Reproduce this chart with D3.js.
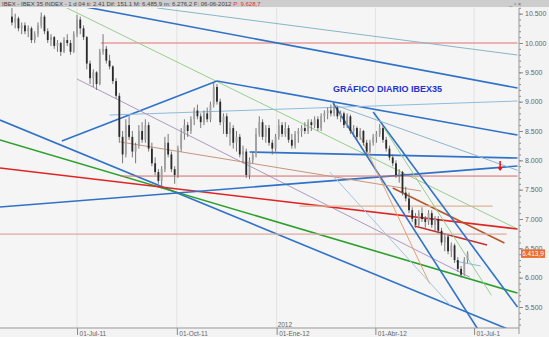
<!DOCTYPE html>
<html>
<head>
<meta charset="utf-8">
<script src="https://cdn.jsdelivr.net/npm/d3@7"></script>
<style>
  body { margin: 0; background: #f3f3f3; }
  svg { display: block; font-family: "Liberation Sans", Arial, sans-serif; }
</style>
</head>
<body>
<svg id="chart" width="549" height="337"></svg>
<script>
// candles: [open, high, low, close], one every 3 days starting at day -60 (days counted from 01-Jul-11)
const startDay = -60, dayStep = 3;
const candles = [
  [10450,10600,10300,10350],[10350,10500,10250,10420],[10420,10450,10200,10250],[10250,10350,10150,10300],
  [10300,10350,10150,10200],[10200,10300,10100,10250],[10250,10280,10000,10050],[10050,10200,10000,10150],
  [10150,10350,10100,10300],[10300,10520,10250,10450],[10450,10480,10150,10200],[10200,10250,10000,10050],
  [10050,10150,9950,10100],[10100,10120,9900,9950],[9950,10050,9850,10000],[10000,10020,9780,9850],
  [9850,10100,9830,10050],[10050,10150,9950,10000],[10000,10050,9800,9850],[9850,10200,9830,10150],
  [10150,10480,10100,10400],[10400,10450,10150,10250],[10250,10300,10050,10100],[10100,10120,9550,9650],
  [9650,9700,9300,9400],[9400,9550,9250,9500],[9500,9520,9200,9300],[9300,9900,9280,9850],
  [9850,10150,9800,9900],[9900,9950,9650,9700],[9700,9800,9550,9600],[9600,9620,9300,9350],
  [9350,9400,9050,9100],[9100,9150,8300,8400],[8400,8500,7950,8100],[8100,8700,8050,8600],
  [8600,8750,8350,8400],[8400,8500,8050,8150],[8150,8300,7950,8250],[8250,8600,8200,8500],
  [8500,8650,8300,8350],[8350,8700,8300,8600],[8600,8650,8150,8200],[8200,8300,7900,7950],
  [7950,8050,7750,7800],[7800,7850,7600,7650],[7650,7900,7520,7850],[7850,8400,7800,8300],
  [8300,8450,8050,8100],[8100,8150,7800,7850],[7850,7900,7600,7750],[7750,8250,7700,8200],
  [8200,8550,8150,8450],[8450,8700,8350,8600],[8600,8650,8400,8500],[8500,8750,8450,8700],
  [8700,8900,8600,8850],[8850,8950,8700,8750],[8750,8800,8550,8650],[8650,8850,8600,8800],
  [8800,8900,8650,8700],[8700,9000,8650,8950],[8950,9330,8900,9250],[9250,9300,8950,9000],
  [9000,9050,8600,8650],[8650,8800,8450,8750],[8750,8800,8400,8450],[8450,8650,8250,8550],
  [8550,8600,8200,8300],[8300,8500,8150,8400],[8400,8450,8050,8100],[8100,8250,7950,8150],
  [8150,8200,7700,7750],[7750,8050,7680,8000],[8000,8150,7950,8100],[8100,8550,8050,8450],
  [8450,8750,8400,8650],[8650,8700,8350,8400],[8400,8600,8300,8550],[8550,8600,8250,8300],
  [8300,8350,8100,8200],[8200,8450,8150,8400],[8400,8700,8350,8600],[8600,8650,8400,8450],
  [8450,8650,8400,8550],[8550,8600,8300,8350],[8350,8450,8200,8250],[8250,8500,8200,8450],
  [8450,8550,8300,8500],[8500,8600,8400,8550],[8550,8650,8450,8500],[8500,8700,8450,8650],
  [8650,8700,8500,8600],[8600,8750,8550,8700],[8700,8750,8500,8550],[8550,8800,8500,8750],
  [8750,8850,8650,8800],[8800,8900,8700,8850],[8850,8950,8750,8800],[8800,8970,8750,8900],
  [8900,8920,8700,8750],[8750,8850,8650,8800],[8800,8830,8550,8600],[8600,8800,8550,8750],
  [8750,8780,8450,8500],[8500,8600,8400,8550],[8550,8580,8350,8400],[8400,8550,8350,8500],
  [8500,8520,8250,8300],[8300,8350,8100,8150],[8150,8350,8120,8300],[8300,8450,8250,8400],
  [8400,8500,8300,8450],[8450,8620,8400,8550],[8550,8600,8300,8350],[8350,8400,8150,8200],
  [8200,8250,8000,8050],[8050,8100,7900,7950],[7950,8000,7700,7750],[7750,7850,7620,7800],
  [7800,7820,7400,7450],[7450,7550,7300,7350],[7350,7450,7100,7150],[7150,7200,6950,7000],
  [7000,7100,6850,6900],[6900,7150,6880,7100],[7100,7200,6950,7000],[7000,7050,6850,6950],
  [6950,7150,6900,7100],[7100,7150,6850,6900],[6900,7050,6800,7000],[7000,7050,6750,6800],
  [6800,6850,6550,6600],[6600,6750,6450,6700],[6700,6750,6400,6450],[6450,6600,6350,6550],
  [6550,6580,6250,6300],[6300,6350,6100,6150],[6150,6200,6000,6050],[6050,6350,6030,6300],
  [6300,6450,6250,6414]
];

const tickDays = [0, 92, 184, 275, 366];
const tickLabels = ["01-Jul-11", "01-Oct-11", "01-Ene-12", "01-Abr-12", "01-Jul-1"];
const priceTicks = [5500, 6000, 6500, 7000, 7500, 8000, 8500, 9000, 9500, 10000, 10500];
const lastPrice = 6413.9;

// trend lines: [day1, price1, day2, price2, colour, width]
const trendLines = [
  [22, 10000, 406, 10000, "#e89a9a", 1.6],
  [74, 10597, 406, 9795, "#86b6c8", 1],
  [3, 10631, 406, 9233, "#2f72c8", 1.6],
  [-13, 10631, 406, 6829, "#96cf8c", 1],
  [-14, 8329, 129, 9352, "#2f72c8", 1.6],
  [129, 9352, 406, 8431, "#2f72c8", 1.6],
  [30, 8772, 406, 9011, "#8cbcdc", 1],
  [0, 9386, 362, 6010, "#b096c4", 1],
  [-71, 8687, 406, 5056, "#2f72c8", 1.6],
  [-71, 8346, 406, 5737, "#2ca02c", 1.6],
  [-71, 7869, 406, 6829, "#e02424", 1.6],
  [291, 7528, 394, 6590, "#b4582c", 1.6],
  [311, 6880, 378, 6556, "#c43030", 1.6],
  [-71, 6743, 396, 6743, "#dcaaa2", 1.4],
  [205, 7221, 383, 7221, "#dcb494", 1.2],
  [236, 8977, 370, 5107, "#2f72c8", 1.6],
  [273, 8824, 406, 5499, "#2f72c8", 1.6],
  [159, 8142, 406, 8039, "#2f72c8", 1.6],
  [-71, 7204, 406, 7903, "#2f72c8", 1.6],
  [40, 7732, 406, 7732, "#d46a6a", 1],
  [238, 8940, 406, 7830, "#8cb4d0", 1],
  [40, 8313, 317, 7477, "#c8947a", 1],
  [283, 8550, 382, 5700, "#96cf8c", 1],
  [260, 8450, 325, 5900, "#e0a070", 1],
  [233, 7800, 344, 5530, "#a8c4dc", 1],
  [349, 6280, 372, 6200, "#8cbcdc", 1]
];

const svg = d3.select("#chart");
const W = 549, H = 337, axisX = 519, plotTop = 8, plotBottom = 328;

const x = d3.scaleLinear().domain([-71, 407.4]).range([0, axisX]);
const y = d3.scaleLinear().domain([10000, 5500]).range([43, 307]);

const esLocale = d3.formatLocale({decimal: ",", thousands: ".", grouping: [3], currency: ["", ""]});
const fmtTick = esLocale.format(",.0f");
const fmtPrice = esLocale.format(",.1f");

svg.append("rect").attr("width", W).attr("height", H).attr("fill", "#f3f3f3");
svg.append("rect").attr("x", 0).attr("y", plotTop).attr("width", axisX).attr("height", plotBottom - plotTop).attr("fill", "#f5f5f5");

svg.append("clipPath").attr("id", "plot")
  .append("rect").attr("x", 0).attr("y", plotTop).attr("width", axisX).attr("height", plotBottom - plotTop);

let plot = svg.append("g").attr("clip-path", "url(#plot)");

// faint vertical grid
plot.selectAll("line.grid").data(tickDays).enter().append("line")
  .attr("class", "grid")
  .attr("x1", d => x(d)).attr("x2", d => x(d))
  .attr("y1", plotTop).attr("y2", plotBottom)
  .attr("stroke", "#e2e2e2").attr("stroke-width", 1);

// trend lines
plot.selectAll("line.trend").data(trendLines).enter().append("line")
  .attr("class", "trend")
  .attr("x1", d => x(d[0])).attr("y1", d => y(d[1]))
  .attr("x2", d => x(d[2])).attr("y2", d => y(d[3]))
  .attr("stroke", d => d[4]).attr("stroke-width", d => d[5]);

// candles
let cg = plot.selectAll("g.candle").data(candles).enter().append("g").attr("class", "candle");
cg.append("line")
  .attr("x1", (d, i) => x(startDay + i * dayStep)).attr("x2", (d, i) => x(startDay + i * dayStep))
  .attr("y1", d => y(d[1])).attr("y2", d => y(d[2]))
  .attr("stroke", "#6a6a6a").attr("stroke-width", 0.9);
cg.append("rect")
  .attr("x", (d, i) => x(startDay + i * dayStep) - 0.9)
  .attr("width", 1.8)
  .attr("y", d => y(Math.max(d[0], d[3])))
  .attr("height", d => Math.max(1, Math.abs(y(d[0]) - y(d[3]))))
  .attr("fill", d => d[3] >= d[0] ? "#a0a0a0" : "#2a2a2a");

// red down arrow marker
let arrow = plot.append("g").attr("transform", "translate(" + x(390) + "," + y(7886) + ")");
arrow.append("line").attr("y1", -6).attr("y2", 2).attr("stroke", "#e01818").attr("stroke-width", 1.5);
arrow.append("path").attr("d", "M-3,0 L3,0 L0,4 Z").attr("fill", "#e01818");

// title
svg.append("text").attr("x", 333).attr("y", 92)
  .attr("font-size", 9).attr("font-weight", "bold").attr("fill", "#2332cf")
  .text("GRÁFICO DIARIO IBEX35");

// right price axis
let ya = svg.append("g").attr("transform", "translate(" + axisX + ",0)");
ya.call(d3.axisRight(y).tickValues(d3.range(5200, 10700, 100)).tickSize(2).tickFormat(""));
ya.select(".domain").remove();
let ya2 = svg.append("g").attr("transform", "translate(" + axisX + ",0)");
ya2.call(d3.axisRight(y).tickValues(priceTicks).tickSize(4).tickPadding(2).tickFormat(fmtTick));
ya2.select(".domain").remove();
ya2.selectAll("text").attr("font-size", 7).attr("fill", "#666").attr("font-family", "Liberation Sans, Arial, sans-serif");
svg.selectAll(".tick line").attr("stroke", "#888");
svg.append("line").attr("x1", axisX).attr("x2", axisX).attr("y1", plotTop).attr("y2", plotBottom + 6)
  .attr("stroke", "#999");

// last price label
svg.append("rect").attr("x", 521).attr("y", y(lastPrice) - 4).attr("width", 24).attr("height", 8.5)
  .attr("fill", "#ec6b2d");
svg.append("text").attr("x", 533).attr("y", y(lastPrice) + 2.5).attr("text-anchor", "middle")
  .attr("font-size", 6.5).attr("fill", "#fff").text(fmtPrice(lastPrice));

// bottom time axis
let xa = svg.append("g").attr("transform", "translate(0," + plotBottom + ")");
xa.call(d3.axisBottom(x).tickValues(tickDays).tickSize(7).tickPadding(0).tickFormat((d, i) => tickLabels[i]));
xa.select(".domain").remove();
xa.selectAll(".tick line").attr("stroke", "#888");
xa.selectAll("text").attr("font-size", 6.5).attr("fill", "#666").attr("text-anchor", "start")
  .attr("dx", 2).attr("dy", 1);
svg.append("line").attr("x1", 0).attr("x2", axisX).attr("y1", plotBottom).attr("y2", plotBottom).attr("stroke", "#999");
svg.append("text").attr("x", x(184) + 1).attr("y", plotBottom - 1.5).attr("font-size", 6.5).attr("fill", "#666").text("2012");

// header bar
svg.append("rect").attr("width", W).attr("height", 7).attr("fill", "#cdcdcd");
let hdr = svg.append("text").attr("x", 2).attr("y", 5.8).attr("font-size", 6).attr("fill", "#444");
hdr.append("tspan").text("IBEX - IBEX 35 INDEX - 1 d 04  ti: 2.41  Dif: 151.1  M: 6.485,9  m: 6.276,2  F: 06-06-2012 ");
hdr.append("tspan").attr("fill", "#e03030").text("P: 9.628,7");
svg.append("text").attr("x", 509).attr("y", 6).attr("font-size", 6).attr("fill", "#666").text("_ ▫ ×");
</script>
</body>
</html>
